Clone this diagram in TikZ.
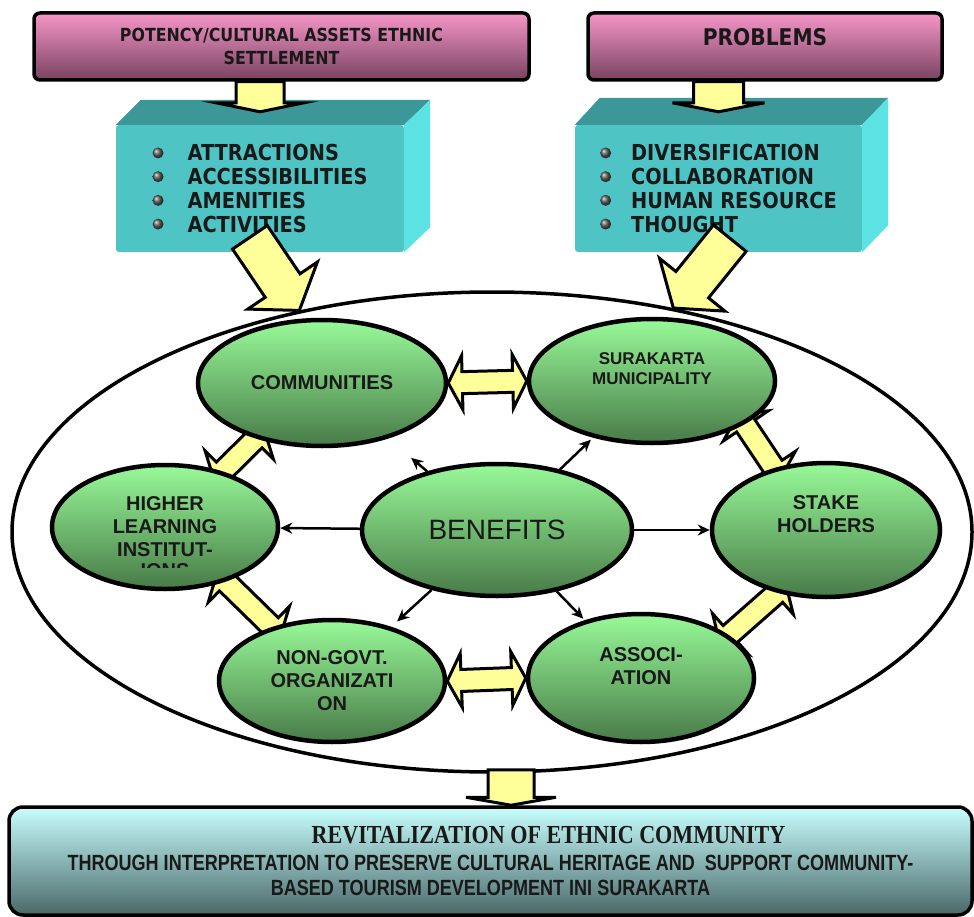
\documentclass[tikz,border=0pt]{standalone}
\usepackage{fontspec}
\newfontfamily\boxfont[FakeStretch=0.88]{DejaVu Sans Bold}
\newfontfamily\ellfont{Liberation Sans}
\newfontfamily\titlefont[FakeStretch=0.85]{Liberation Serif Bold}
\newfontfamily\narrowfont[FakeStretch=0.82]{Liberation Sans Bold}
\usetikzlibrary{shapes.geometric, arrows.meta, calc, backgrounds}

\definecolor{pinktop}{RGB}{246,150,200}
\definecolor{pinkbot}{RGB}{120,66,96}
\definecolor{tealfront}{RGB}{78,196,196}
\definecolor{tealtop}{RGB}{60,152,152}
\definecolor{tealside}{RGB}{92,226,226}
\definecolor{greentop}{RGB}{152,250,152}
\definecolor{greenbot}{RGB}{72,122,72}
\definecolor{arrowyellow}{RGB}{255,255,153}
\definecolor{endtop}{RGB}{200,255,255}
\definecolor{endbot}{RGB}{74,104,104}
\definecolor{inkdark}{RGB}{25,25,25}

\newcommand\bul{\tikz[baseline=-8pt]\shade[ball color=gray!70!black] (0pt,0pt) circle (5.5pt);}
\newcommand\uptext[2]{\raisebox{#1}[\height][\depth]{\begin{tabular}{@{}c@{}}#2\end{tabular}}}

% block arrow with one head: from, to, tail extension, shaft half width, head half width, head length
\newcommand\sglarrow[6]{%
  \draw[blockarrow] let \p1=($(#2)-(#1)$), \n1={atan2(\y1,\x1)},
      \p2=($(#1)+(\n1:-#3)$) in
    ($(\p2)+({\n1+90}:#4)$)
    -- ($(#2)+(\n1:-#6)+({\n1+90}:#4)$)
    -- ($(#2)+(\n1:-#6)+({\n1+90}:#5)$)
    -- (#2)
    -- ($(#2)+(\n1:-#6)+({\n1-90}:#5)$)
    -- ($(#2)+(\n1:-#6)+({\n1-90}:#4)$)
    -- ($(\p2)+({\n1-90}:#4)$) -- cycle;}

% block arrow with two heads: from, to, extension behind both ends
\newcommand\dblarrow[3]{%
  \draw[blockarrow] let \p1=($(#2)-(#1)$), \n1={atan2(\y1,\x1)},
      \p2=($(#1)+(\n1:-#3)$), \p3=($(#2)+(\n1:#3)$) in
    (\p2)
    -- ($(\p2)+(\n1:14pt)+({\n1+90}:27pt)$)
    -- ($(\p2)+(\n1:14pt)+({\n1+90}:11pt)$)
    -- ($(\p3)+(\n1:-14pt)+({\n1+90}:11pt)$)
    -- ($(\p3)+(\n1:-14pt)+({\n1+90}:27pt)$)
    -- (\p3)
    -- ($(\p3)+(\n1:-14pt)+({\n1-90}:27pt)$)
    -- ($(\p3)+(\n1:-14pt)+({\n1-90}:11pt)$)
    -- ($(\p2)+(\n1:14pt)+({\n1-90}:11pt)$)
    -- ($(\p2)+(\n1:14pt)+({\n1-90}:27pt)$) -- cycle;}

\begin{document}
\begin{tikzpicture}[x=1pt, y=-1pt,
    pinkbox/.style={rectangle, draw=black, line width=3.5pt, rounded corners=6pt, top color=pinktop, bottom color=pinkbot, text=inkdark, align=center, inner sep=0pt, minimum height=67pt},
    listbox/.style={rectangle, rounded corners=3pt, fill=tealfront, text=inkdark, align=left, inner sep=0pt, minimum width=288pt, minimum height=127pt, font=\boxfont\fontsize{22}{23.7}\selectfont},
    greenell/.style={ellipse, draw=black, line width=4.5pt, top color=greentop, bottom color=greenbot, text=inkdark, align=center, inner sep=0pt, font=\ellfont\bfseries\fontsize{20}{23}\selectfont},
    outerring/.style={ellipse, draw=black, line width=3.5pt, inner sep=0pt},
    blockarrow/.style={draw=black, line width=3pt, fill=arrowyellow, line join=miter},
    thinarrow/.style={-{Stealth[length=12pt, width=11pt]}, line width=2.5pt},
    endbox/.style={rectangle, draw=black, line width=3.5pt, rounded corners=14pt, top color=endtop, bottom color=endbot, text=inkdark, align=center, inner sep=0pt, minimum width=963pt, minimum height=108pt, font=\narrowfont\fontsize{22}{25}\selectfont}
  ]
  \useasboundingbox (0,0) rectangle (974,917);

  % Sources
  \node[pinkbox, minimum width=495pt, font=\boxfont\fontsize{18}{23}\selectfont] (potency) at (281.5,46.5) {POTENCY/CULTURAL ASSETS ETHNIC\\SETTLEMENT};
  \node[pinkbox, minimum width=354pt, font=\boxfont\fontsize{23}{27}\selectfont] (problems) at (765,46.5) {\uptext{6.5pt}{PROBLEMS}};

  % Lists
  \node[listbox] (potlist) at (260,188.5) {\bul\hspace{24pt}ATTRACTIONS\\ \bul\hspace{24pt}ACCESSIBILITIES\\ \bul\hspace{24pt}AMENITIES\\ \bul\hspace{24pt}ACTIVITIES};
  \node[listbox, minimum width=287pt] (problist) at (718.5,188.5) {\bul\hspace{20pt}DIVERSIFICATION\\ \bul\hspace{20pt}COLLABORATION\\ \bul\hspace{20pt}HUMAN RESOURCE\\ \bul\hspace{20pt}THOUGHT};
  \fill[tealtop] (potlist.north west) -- ++(25,-25) -- ($(potlist.north east)+(26,-25)$) -- (potlist.north east) -- cycle;
  \fill[tealside] (potlist.north east) -- ++(26,-25) -- ($(potlist.south east)+(26,-25)$) -- (potlist.south east) -- cycle;
  \fill[tealtop] (problist.north west) -- ++(25,-27) -- ($(problist.north east)+(26,-27)$) -- (problist.north east) -- cycle;
  \fill[tealside] (problist.north east) -- ++(26,-27) -- ($(problist.south east)+(26,-27)$) -- (problist.south east) -- cycle;

  \coordinate (potin) at ([yshift=13pt]potlist.north);
  \coordinate (probin) at ([yshift=13pt]problist.north);
  \sglarrow{potency.south -| potlist.north}{potin}{0pt}{24pt}{44pt}{9pt}
  \sglarrow{problems.south -| problist.north}{probin}{0pt}{25pt}{46pt}{9pt}

  % Actors
  \node[outerring, minimum width=960pt, minimum height=480pt] (arena) at (492,532) {};
  \node[greenell, minimum width=248pt, minimum height=126pt] (communities) at (322,383) {COMMUNITIES};
  \node[greenell, minimum width=246pt, minimum height=124pt, font=\ellfont\bfseries\fontsize{17}{20}\selectfont] (municipality) at (652,381) {\uptext{11pt}{SURAKARTA\\MUNICIPALITY}};
  \node[greenell, minimum width=226pt, minimum height=124pt] (higher) at (165,527) {HIGHER\\LEARNING\\INSTITUT-};
  \node[greenell, minimum width=270pt, minimum height=132pt, font=\ellfont\fontsize{28}{32}\selectfont] (benefits) at (497,530) {BENEFITS};
  \node[greenell, minimum width=228pt, minimum height=134pt] (stakeholders) at (826,530) {\uptext{14pt}{STAKE\\HOLDERS}};
  \node[greenell, minimum width=226pt, minimum height=122pt] (ngo) at (332,681) {NON-GOVT.\\ORGANIZATI\\ON};
  \node[greenell, minimum width=226pt, minimum height=128pt] (association) at (641,678) {\uptext{9.5pt}{ASSOCI-\\ATION}};
  \begin{scope}
    \clip (100,561) rectangle (230,567);
    \node[font=\ellfont\bfseries\fontsize{20}{23}\selectfont, text=inkdark, inner sep=0pt] (higherrest) at (165,571) {IONS};
  \end{scope}

  % Links between actors
  \begin{scope}[on background layer]
    \dblarrow{communities.east}{municipality.west}{0pt}
    \dblarrow{ngo.east}{association.west}{0pt}
    \dblarrow{communities.220}{higher.44}{12pt}
    \dblarrow{higher.-42}{ngo.138}{12pt}
    \dblarrow{municipality.-25}{stakeholders.130}{12pt}
    \dblarrow{stakeholders.232}{association.26}{12pt}
  \end{scope}

  % Benefits
  \draw[thinarrow] (benefits) -- (higher);
  \draw[thinarrow] (benefits) -- (stakeholders);
  \draw[thinarrow, shorten >=30pt] (benefits) -- (communities);
  \draw[thinarrow, shorten >=3pt] (benefits) -- (municipality);
  \draw[thinarrow, shorten >=8pt] (benefits) -- (ngo);
  \draw[thinarrow, shorten >=2pt] (benefits) -- (association);

  % Inputs
  \sglarrow{potlist.south}{arena.131}{18pt}{21pt}{42pt}{30pt}
  \sglarrow{problist.south}{arena.51}{18pt}{21pt}{42pt}{30pt}

  % Outcome
  \node[endbox] (revital) at (490.5,861) {{\titlefont\fontsize{26}{28}\selectfont\hspace*{116pt}REVITALIZATION OF ETHNIC COMMUNITY}\\[2pt]THROUGH INTERPRETATION TO PRESERVE CULTURAL HERITAGE AND\ \ SUPPORT COMMUNITY-\\BASED TOURISM DEVELOPMENT INI SURAKARTA};
  \coordinate (drop) at ([xshift=19pt]arena.south);
  \sglarrow{drop}{drop |- revital.north}{4pt}{23pt}{45pt}{8pt}

\end{tikzpicture}
\end{document}
